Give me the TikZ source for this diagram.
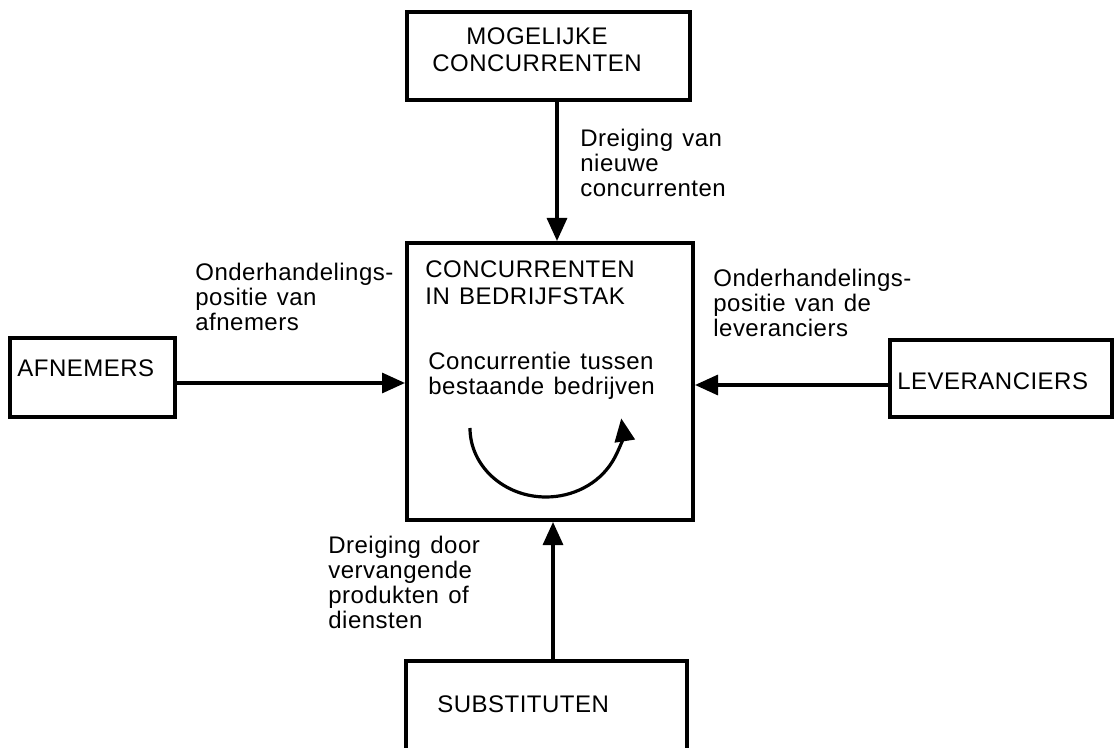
\documentclass[tikz,border=0pt]{standalone}
\usepackage{fontspec}
\setmainfont{Liberation Sans}[LetterSpace=2, WordSpace=1.3]
\usetikzlibrary{arrows.meta}
\begin{document}
\begin{tikzpicture}[x=0.5pt, y=0.5pt,
  box/.style={draw, line width=2pt, inner sep=0pt},
  lbl/.style={anchor=base west, align=left, inner sep=0pt,
    font=\fontsize{12}{12.5}\selectfont},
  boxlbl/.style={anchor=base west, align=left, inner sep=0pt,
    font=\fontsize{12}{13.5}\selectfont},
  flow/.style={line width=1.6pt, -{Triangle[length=11.5pt, width=10pt]}}]
\useasboundingbox (0,0) rectangle (1114,-748);
\fill[white] (0,0) rectangle (1114,-748);
\clip (0,0) rectangle (1114,-748);

% the five forces
\node[box, minimum width=141.5pt, minimum height=44pt]  (mogelijk) at (548.5,-56) {};
\node[box, minimum width=143pt,   minimum height=138.5pt] (kern)   at (550,-381.5) {};
\node[box, minimum width=82.5pt,  minimum height=39.5pt] (afn)     at (92.5,-377.5) {};
\node[box, minimum width=111pt,   minimum height=38.5pt] (lev)     at (1001,-378.5) {};
\node[box, minimum width=140.5pt, minimum height=69.5pt] (subst)   at (546.5,-730.5) {};

% box texts (multi-line nodes sit on the baseline of their last line)
\node[boxlbl, anchor=base, align=center] (mogTxt) at (537,-72) {MOGELIJKE\\CONCURRENTEN};
\node[boxlbl] (kernTxt) at (425,-305) {CONCURRENTEN\\IN BEDRIJFSTAK};
\node[lbl] (rivTxt) at (428,-395) {Concurrentie tussen\\bestaande bedrijven};
\node[boxlbl] (afnTxt) at (17,-377) {AFNEMERS};
\node[boxlbl] (levTxt) at (897,-390) {LEVERANCIERS};
\node[boxlbl] (substTxt) at (437,-712) {SUBSTITUTEN};

% arrow labels
\node[lbl] (nieuwLbl) at (580,-197) {Dreiging van\\nieuwe\\concurrenten};
\node[lbl] (afnLbl) at (195,-331) {Onderhandelings-\\positie van\\afnemers};
\node[lbl] (levLbl) at (713,-337) {Onderhandelings-\\positie van de\\leveranciers};
\node[lbl] (substLbl) at (328,-628) {Dreiging door\\vervangende\\produkten of\\diensten};

% connector lines
\coordinate (xTop) at (557,0);
\coordinate (xBot) at (553,0);
\coordinate (yLeft) at (0,-383);
\coordinate (yRight) at (0,-385);
\draw[flow] (mogelijk.south -| xTop) -- (kern.north -| xTop);
\draw[flow] (subst.north -| xBot) -- (kern.south -| xBot);
\draw[flow] (afn.east |- yLeft) -- (kern.west |- yLeft);
\draw[flow] (lev.west |- yRight) -- (kern.east |- yRight);

% rivalry loop
\coordinate (loopStart) at (470,-428);
\draw[flow] (loopStart) arc[start angle=180, end angle=368, x radius=38pt, y radius=34.5pt];
\end{tikzpicture}
\end{document}
